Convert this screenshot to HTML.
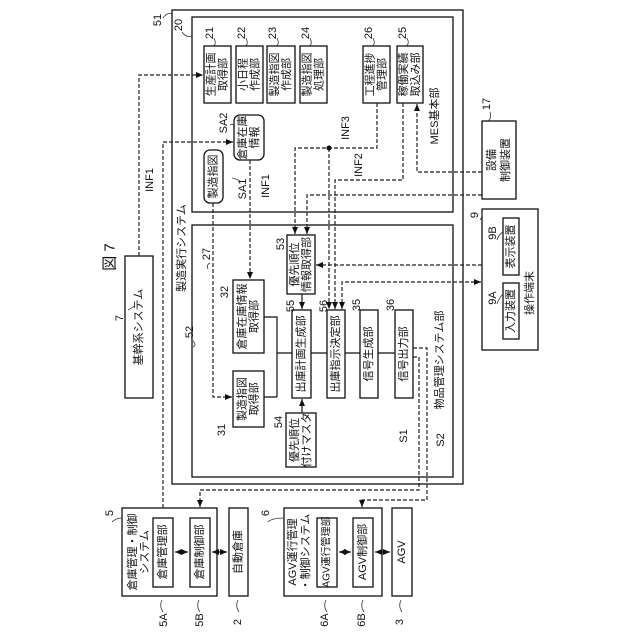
<!DOCTYPE html>
<html><head><meta charset="utf-8"><style>
html,body{margin:0;padding:0;background:#fff}
svg{display:block}
text{font-family:"Liberation Sans","Noto Sans CJK JP",sans-serif;font-size:11px;fill:#111;text-anchor:middle;dominant-baseline:central}
.s{font-size:11px}
.b{fill:#fff;stroke:#111;stroke-width:1.3}
.d{fill:none;stroke:#222;stroke-width:1.2;stroke-dasharray:4 2}
.l{fill:none;stroke:#111;stroke-width:1.2}
.q{fill:none;stroke:#333;stroke-width:0.8}
</style></head><body>
<svg width="640" height="640" viewBox="0 0 640 640" xmlns="http://www.w3.org/2000/svg">
<defs>
<marker id="a" markerWidth="8" markerHeight="8" refX="7" refY="4" orient="auto" markerUnits="userSpaceOnUse"><path d="M0,1 L7,4 L0,7 z" fill="#111"/></marker>
<marker id="s" markerWidth="8" markerHeight="8" refX="1" refY="4" orient="auto" markerUnits="userSpaceOnUse"><path d="M8,1 L1,4 L8,7 z" fill="#111"/></marker>
</defs>

<!-- outer boxes -->
<rect class="b" x="172" y="10" width="291" height="474" stroke-width="1.6"/>
<rect class="b" x="192" y="17" width="261" height="195"/>
<rect class="b" x="192" y="225" width="261" height="252"/>

<!-- MES blocks -->
<rect class="b" x="204" y="46" width="27" height="57"/>
<rect class="b" x="236" y="46" width="27" height="57"/>
<rect class="b" x="267" y="46" width="28" height="57"/>
<rect class="b" x="300" y="46" width="27" height="57"/>
<rect class="b" x="363" y="46" width="27" height="57"/>
<rect class="b" x="397" y="46" width="26" height="57"/>
<rect class="b" x="234" y="115" width="30" height="45" rx="6"/>
<rect class="b" x="204" y="150" width="19" height="53" rx="6"/>

<g transform="translate(217.5 74.5) rotate(-90)"><text y="-6">生産計画</text><text y="6">取得部</text></g>
<g transform="translate(249.5 74.5) rotate(-90)"><text y="-6">小日程</text><text y="6">作成部</text></g>
<g transform="translate(281 74.5) rotate(-90)"><text y="-6">製造指図</text><text y="6">作成部</text></g>
<g transform="translate(313.5 74.5) rotate(-90)"><text y="-6">製造指図</text><text y="6">処理部</text></g>
<g transform="translate(376.5 74.5) rotate(-90)"><text y="-6">工程進捗</text><text y="6">管理部</text></g>
<g transform="translate(410 74.5) rotate(-90)"><text y="-6">稼働実績</text><text y="6">取込み部</text></g>
<g transform="translate(249 137.5) rotate(-90)"><text y="-6">倉庫在庫</text><text y="6">情報</text></g>
<text transform="translate(213.5 176.5) rotate(-90)">製造指図</text>
<text transform="translate(435 116) rotate(-90)">MES基本部</text>

<!-- 52 blocks -->
<rect class="b" x="287" y="235" width="28" height="59"/>
<rect class="b" x="233" y="280" width="31" height="73"/>
<rect class="b" x="233" y="371" width="31" height="56"/>
<rect class="b" x="292" y="310" width="19" height="88"/>
<rect class="b" x="327" y="310" width="18" height="88"/>
<rect class="b" x="360" y="310" width="18" height="88"/>
<rect class="b" x="395" y="310" width="18" height="88"/>
<rect class="b" x="286" y="413" width="30" height="54"/>
<g transform="translate(301 264.5) rotate(-90)"><text y="-6">優先順位</text><text y="6">情報取得部</text></g>
<g transform="translate(248.5 316.5) rotate(-90)"><text y="-6">倉庫在庫情報</text><text y="6">取得部</text></g>
<g transform="translate(248.5 399) rotate(-90)"><text y="-6">製造指図</text><text y="6">取得部</text></g>
<text transform="translate(301.5 354) rotate(-90)">出庫計画生成部</text>
<text transform="translate(336 354) rotate(-90)">出庫指示決定部</text>
<text transform="translate(369 354) rotate(-90)">信号生成部</text>
<text transform="translate(404 354) rotate(-90)">信号出力部</text>
<g transform="translate(301 440) rotate(-90)"><text y="-6">優先順位</text><text y="6">付けマスタ</text></g>
<text transform="translate(440 360) rotate(-90)">物品管理システム部</text>
<text transform="translate(182 248) rotate(-90)">製造実行システム</text>

<!-- bus -->
<path class="l" d="M264 317 H277 V397 M264 397 H277 M277 353 H292 M311 353 H327 M345 353 H360 M378 353 H395"/>
<path class="l" d="M302 294 V309" marker-end="url(#a)"/>
<path class="l" d="M302 413 V399" marker-end="url(#a)"/>

<!-- left systems -->
<rect class="b" x="125" y="256" width="28" height="142"/>
<text transform="translate(139 327) rotate(-90)">基幹系システム</text>
<text transform="translate(110 257) rotate(-90)" style="font-size:15px">図 7</text>

<rect class="b" x="122" y="508" width="95" height="88"/>
<rect class="b" x="153" y="518" width="20" height="69"/>
<rect class="b" x="190" y="518" width="20" height="69"/>
<rect class="b" x="229" y="508" width="19" height="88"/>
<g transform="translate(139 552) rotate(-90)"><text y="-6">倉庫管理・制御</text><text y="6">システム</text></g>
<text transform="translate(163 552) rotate(-90)">倉庫管理部</text>
<text transform="translate(200 552) rotate(-90)">倉庫制御部</text>
<text transform="translate(238.5 552) rotate(-90)">自動倉庫</text>

<rect class="b" x="284" y="508" width="98" height="88"/>
<rect class="b" x="317" y="518" width="20" height="69"/>
<rect class="b" x="353" y="518" width="20" height="69"/>
<rect class="b" x="392" y="508" width="20" height="88"/>
<g transform="translate(300 552) rotate(-90)"><text y="-7">AGV運行管理</text><text y="6">・制御システム</text></g>
<text transform="translate(327 552) rotate(-90)" style="font-size:10px">AGV運行管理部</text>
<text transform="translate(363 552) rotate(-90)">AGV制御部</text>
<text transform="translate(402 552) rotate(-90)">AGV</text>

<path class="l" d="M175 552 H188" marker-start="url(#s)" marker-end="url(#a)"/>
<path class="l" d="M212 552 H227" marker-start="url(#s)" marker-end="url(#a)"/>
<path class="l" d="M339 552 H351" marker-start="url(#s)" marker-end="url(#a)"/>
<path class="l" d="M375 552 H390" marker-start="url(#s)" marker-end="url(#a)"/>

<!-- right devices -->
<rect class="b" x="482" y="121" width="34" height="78"/>
<g transform="translate(499 160) rotate(-90)"><text y="-7">設備</text><text y="7">制御装置</text></g>
<rect class="b" x="482" y="209" width="56" height="141"/>
<rect class="b" x="503" y="218" width="16" height="57"/>
<rect class="b" x="503" y="283" width="16" height="56"/>
<text transform="translate(511 246.5) rotate(-90)">表示装置</text>
<text transform="translate(511 311) rotate(-90)">入力装置</text>
<text transform="translate(530 293) rotate(-90)">操作端末</text>

<!-- dashed connectors -->
<path class="d" d="M139 256 V75 H203" marker-end="url(#a)"/>
<path class="d" d="M163 508 V142 H233" marker-end="url(#a)"/>
<path class="d" d="M213 203 V397 H232" marker-end="url(#a)"/>
<path class="d" d="M250 160 V279" marker-end="url(#a)"/>
<path class="d" d="M377 103 V148 H295 V234" marker-end="url(#a)"/>
<path class="d" d="M329 148 V309" marker-end="url(#a)"/>
<circle cx="329" cy="148" r="2.5" fill="#111"/>
<path class="d" d="M403 103 V180 H335 V309" marker-end="url(#a)"/>
<path class="d" d="M482 172 H417 V104" marker-end="url(#a)"/>
<path class="d" d="M482 195 H307 V234" marker-end="url(#a)"/>
<path class="d" d="M482 265 H316" marker-end="url(#a)"/>
<path class="d" d="M342 309 V282 H481" marker-start="url(#s)" marker-end="url(#a)"/>
<path class="d" d="M413 357 H419 V490 H200 V507" marker-end="url(#a)"/>
<path class="d" d="M413 348 H427 V500 H362 V507" marker-end="url(#a)"/>

<!-- labels -->
<g class="s">
<text transform="translate(158 20) rotate(-90)">51</text>
<text transform="translate(179 25) rotate(-90)">20</text>
<text transform="translate(210 33) rotate(-90)">21</text>
<text transform="translate(242 33) rotate(-90)">22</text>
<text transform="translate(273 33) rotate(-90)">23</text>
<text transform="translate(306 33) rotate(-90)">24</text>
<text transform="translate(369 33) rotate(-90)">26</text>
<text transform="translate(403 33) rotate(-90)">25</text>
<text transform="translate(224 123) rotate(-90)">SA2</text>
<text transform="translate(243 189) rotate(-90)">SA1</text>
<text transform="translate(266 186) rotate(-90)">INF1</text>
<text transform="translate(346 128) rotate(-90)">INF3</text>
<text transform="translate(359 165) rotate(-90)">INF2</text>
<text transform="translate(150 180) rotate(-90)">INF1</text>
<text transform="translate(120 318) rotate(-90)">7</text>
<text transform="translate(207 254) rotate(-90)">27</text>
<text transform="translate(190 332) rotate(-90)">52</text>
<text transform="translate(281 244) rotate(-90)">53</text>
<text transform="translate(225 292) rotate(-90)">32</text>
<text transform="translate(291 306) rotate(-90)">55</text>
<text transform="translate(324 306) rotate(-90)">56</text>
<text transform="translate(357 305) rotate(-90)">35</text>
<text transform="translate(391 305) rotate(-90)">36</text>
<text transform="translate(222 430) rotate(-90)">31</text>
<text transform="translate(279 422) rotate(-90)">54</text>
<text transform="translate(404 436) rotate(-90)">S1</text>
<text transform="translate(441 440) rotate(-90)">S2</text>
<text transform="translate(475 215) rotate(-90)">9</text>
<text transform="translate(493 233) rotate(-90)">9B</text>
<text transform="translate(493 298) rotate(-90)">9A</text>
<text transform="translate(487 104) rotate(-90)">17</text>
<text transform="translate(110 513) rotate(-90)">5</text>
<text transform="translate(266 513) rotate(-90)">6</text>
<text transform="translate(164 620) rotate(-90)">5A</text>
<text transform="translate(200 620) rotate(-90)">5B</text>
<text transform="translate(238 622) rotate(-90)">2</text>
<text transform="translate(325 620) rotate(-90)">6A</text>
<text transform="translate(362 620) rotate(-90)">6B</text>
<text transform="translate(400 622) rotate(-90)">3</text>
</g>
<!-- leaders -->
<path class="q" d="M163 18 q4 -6 9 -4 M182 32 q4 6 10 4 M214 38 q3 6 -1 8 M246 38 q3 6 -1 8 M277 38 q3 6 -1 8 M310 38 q3 6 -1 8 M373 38 q3 6 -1 8 M407 38 q3 6 -1 8 M230 125 q3 -2 5 2 M240 181 q-6 -3 -8 -3 M128 310 q4 -2 6 -4 M193 341 q4 4 0 6 M210 263 q-4 2 -2 6 M162 600 q-3 6 1 12 M199 600 q-3 6 1 12 M238 600 q-3 6 1 12 M326 600 q-3 6 1 12 M363 600 q-3 6 1 12 M401 600 q-3 6 1 12 M112 522 q4 -4 10 -4 M268 522 q4 -4 16 -4 M480 220 q3 -4 2 -8 M497 240 q2 -6 6 -8 M497 304 q2 -6 6 -10 M490 112 q2 6 -2 9"/>
</svg>
</body></html>
